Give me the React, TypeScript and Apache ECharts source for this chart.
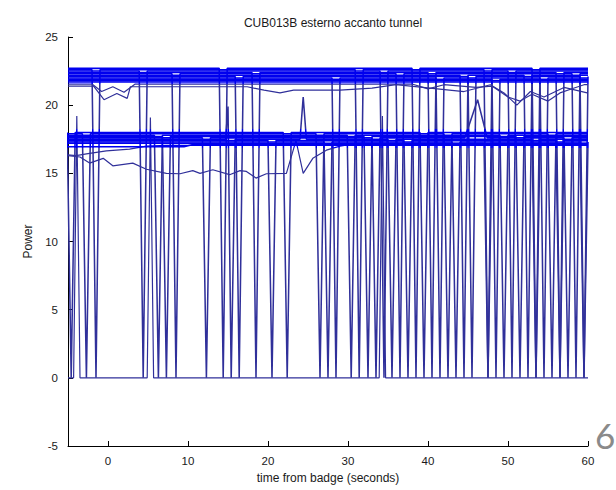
import React, { useEffect, useRef } from "react";
import * as echarts from "echarts";

// ---- Data: [time (s), power] ----
const titleText = "CUB013B esterno accanto tunnel";
const xName = "time from badge (seconds)";
const yName = "Power";
const xTicks = [0, 10, 20, 30, 40, 50, 60];

// upper band (~21.7 - 22.7)
const top1 = [[-5,22.7],[13.9,22.7],[14.4,0],[14.9,22.7],[38.0,22.7],[38.5,0],[39.0,22.7],[53.0,22.7],[53.5,0],[54.0,22.7],[60,22.7]];
const top2 = [[-5,22.6],[-2.0,22.6],[-1.5,0],[-1.0,22.6],[30.9,22.6],[31.4,0],[31.9,22.6],[47.0,22.6],[47.5,0],[48.0,22.6],[60,22.6]];
const top3 = [[-5,22.5],[3.9,22.5],[4.4,0],[4.9,22.5],[34.0,22.5],[34.5,0],[35.0,22.5],[50.0,22.5],[50.5,0],[51.0,22.5],[60,22.5]];
const top4 = [[-5,22.4],[18.0,22.4],[18.5,0],[19.0,22.4],[40.0,22.4],[40.5,0],[41.0,22.4],[56.0,22.4],[56.5,0],[57.0,22.4],[60,22.4]];
const top5 = [[-5,22.3],[8.0,22.3],[8.5,0],[9.0,22.3],[36.0,22.3],[36.5,0],[37.0,22.3],[58.0,22.3],[58.5,0],[59.0,22.3],[60,22.3]];
const top6 = [[-5,22.2],[44.0,22.2],[44.5,0],[45.0,22.2],[52.0,22.2],[52.5,0],[53.0,22.2],[60,22.2]];
const top7 = [[-5,22.1],[15.9,22.1],[16.4,0],[16.9,22.1],[45.0,22.1],[45.5,0],[46.0,22.1],[59.0,22.1],[59.5,0],[60.0,22.1]];
const top8 = [[-5,22.0],[28.0,22.0],[28.5,0],[29.0,22.0],[41.0,22.0],[41.5,0],[42.0,22.0],[54.0,22.0],[54.5,0],[55.0,22.0],[60,22.0]];
const top9 = [[-5,21.9],[48.0,21.9],[48.5,0],[49.0,21.9],[60,21.9]];
const top10 = [[-5,21.8],[60,21.8]];
const top11 = [[-5,21.7],[60,21.7]];

// lower band (~17.1 - 18.0)
const low1 = [[-5.1,18.0],[-4.6,0],[-4.1,18.0],[21.9,18.0],[22.4,0],[22.9,18.0],[39.0,18.0],[39.5,0],[40.0,18.0],[60,18.0]];
const low2 = [[-5,17.9],[-3.2,17.9],[-2.7,0],[-2.2,17.9],[26.0,17.9],[26.5,0],[27.0,17.9],[42.0,17.9],[42.5,0],[43.0,17.9],[55.0,17.9],[55.5,0],[56.0,17.9],[60,17.9]];
const low3 = [[-5,17.8],[5.8,17.8],[6.3,0],[6.8,17.8],[29.9,17.8],[30.4,0],[30.9,17.8],[49.0,17.8],[49.5,0],[50.0,17.8],[60,17.8]];
const low4 = [[-5,17.7],[6.8,17.7],[7.3,0],[7.8,17.7],[32.0,17.7],[32.5,0],[33.0,17.7],[51.0,17.7],[51.5,0],[52.0,17.7],[60,17.7]];
const low5 = [[-5,17.6],[11.8,17.6],[12.3,0],[12.8,17.6],[33.0,17.6],[33.5,0],[34.0,17.6],[44.6,17.6],[46.2,20.4],[47.4,17.6],[57.0,17.6],[57.5,0],[58.0,17.6],[60,17.6]];
const low6 = [[-5,17.5],[14.7,17.5],[15.0,19.9],[15.4,0],[15.9,17.5],[24.0,17.5],[24.4,20.6],[24.8,17.5],[35.0,17.5],[35.5,0],[36.0,17.5],[53.0,17.5],[53.5,0],[54.0,17.5],[60,17.5]];
const low7 = [[-5,17.4],[20.0,17.4],[20.5,0],[21.0,17.4],[37.0,17.4],[37.5,0],[38.0,17.4],[56.0,17.4],[56.5,0],[57.0,17.4],[60,17.4]];
const low8 = [[-5,17.3],[27.0,17.3],[27.5,0],[28.0,17.3],[43.0,17.3],[43.5,0],[44.0,17.3],[59.0,17.3],[59.5,0],[60.0,17.3]];
const low9 = [[-5,17.2],[47.0,17.2],[47.5,0],[48.0,17.2],[60,17.2]];
const low10 = [[-5,16.95],[9.5,16.95],[10.5,17.1],[60,17.1]];

// idle trace at zero with short spikes
const zero = [[-5,0],[-4.3,0],[-3.9,19.2],[-3.5,0],[4.9,0],[5.3,19.1],[5.7,0],[33.9,0],[34.3,19.2],[34.7,0],[60,0]];

// traces just under the upper band
const sub1 = [[-5,21.4],[-1.8,21.4],[-0.5,20.4],[1.1,20.85],[2.4,20.5],[2.8,21.35],[17.4,21.35],[19.5,21.1],[21.5,20.9],[23.2,21.1],[29,21.1],[33,21.25],[36,21.5],[44.5,21.0],[47.8,21.5],[49.5,20.9],[51.1,20.0],[52.8,21.0],[54.5,20.6],[57,21.3],[59.9,20.9],[60,20.9]];
const sub2 = [[-5,21.55],[-2,21.55],[-0.8,21.0],[0.6,21.35],[2.0,20.95],[3.4,21.55],[38,21.55],[40,21.2],[42,21.5],[46,21.3],[48,21.4],[50,20.6],[51.5,20.3],[53,20.8],[55,20.3],[56.5,20.9],[58,21.2],[59.5,21.5],[60,21.5]];

// traces under the lower band
const lowA = [[-5,16.3],[-3.5,16.2],[-2.3,15.75],[-0.6,16.1],[0.6,15.55],[3.1,15.75],[4.8,15.3],[7.3,15.0],[9.0,14.97],[10.6,15.2],[11.5,15.0],[13.1,15.26],[15.2,14.9],[16.5,15.2],[17.3,15.14],[18.5,14.65],[19.8,14.97],[22.3,15.0],[23.5,17.4],[24.4,15.0],[25.6,16.1],[27.3,16.7],[29,17.0],[31,17.2],[60,17.2]];
const lowB = [[-5,16.35],[-4,16.3],[-2.5,16.45],[-0.2,16.65],[2.7,16.77],[4.8,17.0],[7.3,17.05],[60,17.05]];

const bandSeries = [top1, top2, top3, top4, top5, top6, top7, top8, top9, top10, top11,
  low1, low2, low3, low4, low5, low6, low7, low8, low9, low10];
const thinSeries = [zero, sub1, sub2, lowA, lowB];

const FONT = '"Liberation Sans", Arial, Helvetica, sans-serif';
const NAVY = "#30309a";
const BLUE = "#0000ee";
const H = 490;

function lineColor() {
  const s = (px: number) => px / H;
  return {
    type: "linear", x: 0, y: 0, x2: 0, y2: H, global: true,
    colorStops: [
      { offset: 0, color: NAVY },
      { offset: s(64), color: NAVY },
      { offset: s(64.5), color: BLUE },
      { offset: s(84), color: BLUE },
      { offset: s(84.5), color: NAVY },
      { offset: s(129), color: NAVY },
      { offset: s(129.5), color: BLUE },
      { offset: s(148), color: BLUE },
      { offset: s(148.5), color: NAVY },
      { offset: 1, color: NAVY },
    ],
  };
}

export default function App() {
  const ref = useRef<HTMLDivElement>(null);
  useEffect(() => {
    if (!ref.current) return;
    const chart = echarts.init(ref.current, null, { renderer: "svg" });
    const color = lineColor();
    const mk = (d: number[][], i: number, w: number) => ({
      type: "line",
      name: "s" + i,
      data: d,
      symbol: "none",
      silent: true,
      clip: true,
      lineStyle: { color, width: w },
    });
    chart.setOption({
      animation: false,
      backgroundColor: "#ffffff",
      title: {
        text: titleText,
        left: 328,
        textAlign: "center",
        top: 12,
        textStyle: { fontFamily: FONT, fontSize: 12, fontWeight: "normal", color: "#1a1a1a" },
      },
      grid: { left: 68, right: 28, top: 37, bottom: 44, containLabel: false },
      xAxis: {
        type: "value",
        min: -5,
        max: 60,
        name: xName,
        nameLocation: "middle",
        nameGap: 26,
        nameTextStyle: { fontFamily: FONT, fontSize: 12, color: "#1a1a1a" },
        splitLine: { show: false },
        axisLine: { onZero: false, lineStyle: { color: "#000", width: 1 } },
        axisTick: { inside: true, length: 5, customValues: xTicks, lineStyle: { color: "#000" } },
        axisLabel: { customValues: xTicks, margin: 9, fontFamily: FONT, fontSize: 11.5, color: "#1a1a1a" },
      },
      yAxis: {
        type: "value",
        min: -5,
        max: 25,
        interval: 5,
        name: yName,
        nameLocation: "middle",
        nameGap: 32,
        nameRotate: 90,
        nameTextStyle: { fontFamily: FONT, fontSize: 12, color: "#1a1a1a" },
        splitLine: { show: false },
        axisLine: { onZero: false, lineStyle: { color: "#000", width: 1 } },
        axisTick: { inside: true, length: 5, lineStyle: { color: "#000" } },
        axisLabel: { margin: 10, fontFamily: FONT, fontSize: 11.5, color: "#1a1a1a" },
      },
      graphic: [
        {
          type: "text",
          x: 595,
          y: 435,
          style: { text: "6", fontFamily: "Lato, 'Open Sans', sans-serif", fontSize: 35, fill: "#8a8a8a", verticalAlign: "middle", align: "left" },
        },
      ],
      series: [
        ...bandSeries.map((d, i) => mk(d, i, 1.55)),
        ...thinSeries.map((d, i) => mk(d, 100 + i, 1.2)),
      ],
    });
    return () => chart.dispose();
  }, []);
  return <div ref={ref} style={{ position: "fixed", left: 0, top: 0, width: 616, height: 490, background: "#fff" }} />;
}
